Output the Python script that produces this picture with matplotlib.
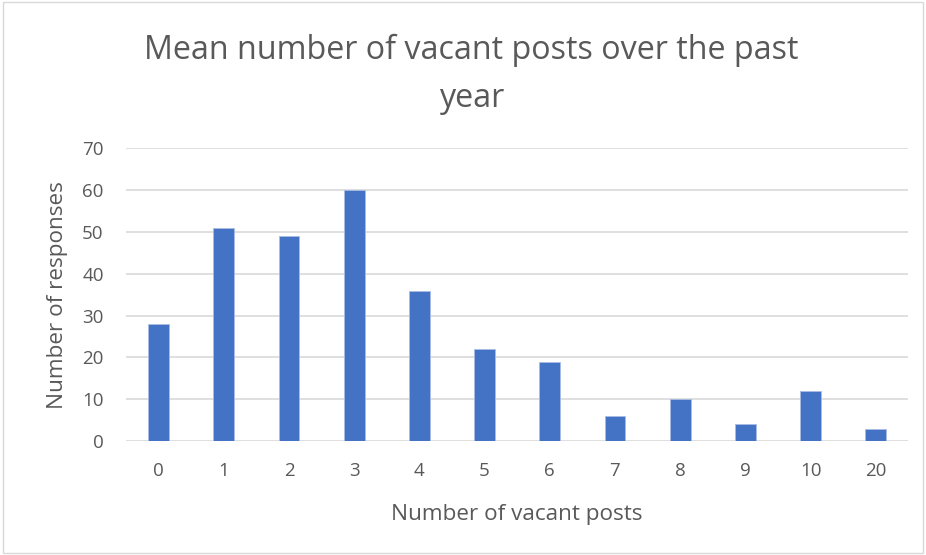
import matplotlib
matplotlib.use("Agg")
import matplotlib.pyplot as plt
from matplotlib.patches import Rectangle

categories = ["0", "1", "2", "3", "4", "5", "6", "7", "8", "9", "10", "20"]
responses = [28, 51, 49, 60, 36, 22, 19, 6, 10, 4, 12, 3]
yticks = [0, 10, 20, 30, 40, 50, 60, 70]

plt.rcParams['font.family'] = ['Open Sans', 'DejaVu Sans']
grey = '#595959'

fig = plt.figure(figsize=(9.26, 5.55), dpi=100)
ax = fig.add_axes([0.136, 0.205, 0.845, 0.528])

x = list(range(len(categories)))
ax.bar(x, responses, width=0.32, color='#4472C4', edgecolor='#A9BCE4', linewidth=0.6, zorder=3)
ax.set_xlim(-0.5, len(categories) - 0.5)
ax.set_ylim(0, 70)
ax.set_yticks(yticks)
ax.set_xticks(x)
ax.set_xticklabels(categories)
ax.grid(axis='y', color='#D9D9D9', linewidth=1.2, zorder=0)
for s in ax.spines.values():
    s.set_visible(False)
ax.tick_params(axis='both', length=0, colors=grey, labelsize=13.5)
ax.tick_params(axis='x', pad=15)
ax.tick_params(axis='y', pad=16)
ax.set_xlabel("Number of vacant posts", color=grey, fontsize=16.2, labelpad=17)
ax.set_ylabel("Number of responses", color=grey, fontsize=16.2, labelpad=10)

fig.text(0.509, 0.866, "Mean number of vacant posts over the past\nyear", ha='center', va='center',
         fontsize=23.2, color=grey, linespacing=1.58)

fig.patches.append(Rectangle((0.003, 0.004), 0.994, 0.992, transform=fig.transFigure,
                             fill=False, edgecolor='#D9D9D9', linewidth=1))

fig.savefig("out.png", dpi=100)
